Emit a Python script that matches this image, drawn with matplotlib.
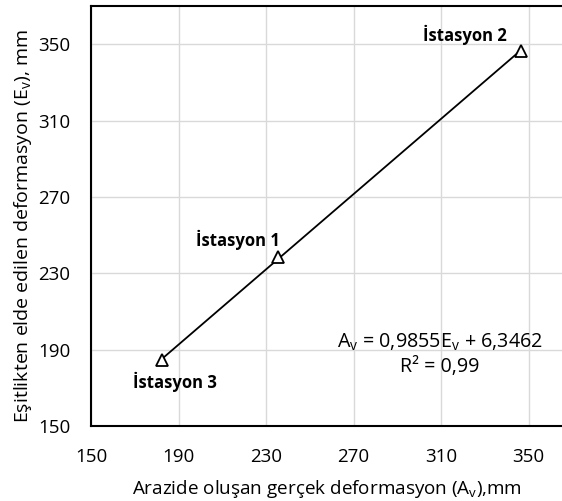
import matplotlib
matplotlib.use("Agg")
import matplotlib.pyplot as plt
import numpy as np

plt.rcParams['font.family'] = ['Open Sans', 'DejaVu Sans']
plt.rcParams['mathtext.default'] = 'regular'

stations = ["İstasyon 1", "İstasyon 2", "İstasyon 3"]
actual_def = [235.5, 346.5, 182.5]     # x: Arazide oluşan gerçek deformasyon
equation_def = [238.5, 346.5, 184.5]   # y: Eşitlikten elde edilen deformasyon
x_ticks = [150, 190, 230, 270, 310, 350]
y_ticks = [150, 190, 230, 270, 310, 350]

fig = plt.figure(figsize=(5.62, 5.01), dpi=100)
ax = fig.add_axes([91/562, 1-426/501, 1-91/562, (426-6)/501])

ax.set_xlim(150, 365.3)
ax.set_ylim(150, 370)
ax.set_xticks(x_ticks)
ax.set_yticks(y_ticks)
ax.grid(True, color='#d9d9d9', linewidth=1)
ax.set_axisbelow(True)
ax.tick_params(axis='y', length=0, labelsize=13.5, pad=15)
ax.tick_params(axis='x', length=0, labelsize=13.5, pad=16)
for s in ['left', 'bottom', 'top']:
    ax.spines[s].set_linewidth(1.5)
    ax.spines[s].set_color('black')
ax.spines['right'].set_visible(False)

# trendline
coef = np.polyfit(actual_def, equation_def, 1)
xs = np.array([min(actual_def), max(actual_def)])
ax.plot(xs, np.polyval(coef, xs), color='black', linewidth=1.3, zorder=2)

ax.plot(actual_def, equation_def, linestyle='none', marker='^', markersize=9,
        markerfacecolor='white', markeredgecolor='black', markeredgewidth=1.3, zorder=3)

offsets = {"İstasyon 1": (-29, 12), "İstasyon 2": (-40, 11.5), "İstasyon 3": (9, -16)}
for name, xv, yv in zip(stations, actual_def, equation_def):
    ax.annotate(name, (xv, yv), xytext=offsets[name], textcoords='offset points',
                ha='center', va='center', fontsize=12, fontweight='bold')

ax.text(0.741, 0.20, r'$A_v$ = 0,9855$E_v$ + 6,3462', transform=ax.transAxes,
        ha='center', va='center', fontsize=14.2)
ax.text(0.741, 0.14, 'R² = 0,99', transform=ax.transAxes,
        ha='center', va='center', fontsize=14.2)

ax.set_xlabel(r'Arazide oluşan gerçek deformasyon ($A_v$),mm', fontsize=13.6, labelpad=6)
ax.set_ylabel(r'Eşitlikten elde edilen deformasyon ($E_v$), mm', fontsize=14, labelpad=2)
ax.xaxis.set_label_coords(0.5, -0.125)
ax.yaxis.set_label_coords(-0.12, 0.476)

fig.savefig('out.png', dpi=100)
